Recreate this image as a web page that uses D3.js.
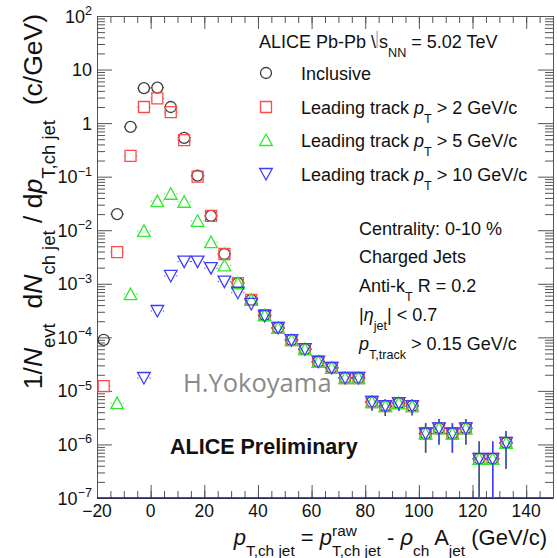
<!DOCTYPE html>
<html>
<head>
<meta charset="utf-8">
<script src="https://cdn.jsdelivr.net/npm/d3@7"></script>
<style>
body { margin: 0; background: #fff; }
svg { display: block; }
text { font-family: "Liberation Sans", Arial, Helvetica, sans-serif; white-space: pre; }
</style>
</head>
<body>
<svg width="557" height="558"></svg>
<script>
// bin centres (GeV/c), bins are 5 GeV/c wide
const binCenters = [-17.5, -12.5, -7.5, -2.5, 2.5, 7.5, 12.5, 17.5, 22.5, 27.5, 32.5, 37.5, 42.5, 47.5, 52.5,
  57.5, 62.5, 67.5, 72.5, 77.5, 82.5, 87.5, 92.5, 97.5, 102.5, 107.5, 112.5, 117.5, 122.5, 127.5, 132.5]

const inclusive = [9e-5, 0.02, 0.85, 4.5, 4.6, 2.0, 0.53, 0.105, 0.0185, 0.0036, 1.03e-3, 5.0e-4, 2.6e-4, 1.5e-4, 8.9e-5,
  6.0e-5, 3.5e-5, 2.7e-5, 1.74e-5, 1.74e-5, 6.2e-6, 5.2e-6, 5.9e-6, 5.2e-6, 1.6e-6, 2.0e-6, 1.6e-6, 2.0e-6, 5.4e-7, 5.4e-7, 1.07e-6]
const lead2 = [1.23e-5, 3.9e-3, 0.245, 2.0, 2.9, 1.6, 0.48, 0.10, 0.0185, 0.0036, 1.03e-3, 5.0e-4, 2.6e-4, 1.5e-4, 8.9e-5,
  6.0e-5, 3.5e-5, 2.7e-5, 1.74e-5, 1.74e-5, 6.2e-6, 5.2e-6, 5.9e-6, 5.2e-6, 1.6e-6, 2.0e-6, 1.6e-6, 2.0e-6, 5.4e-7, 5.4e-7, 1.07e-6]
const lead5 = [null, 5.9e-6, 6.4e-4, 9.7e-3, 0.035, 0.048, 0.034, 0.015, 6.0e-3, 2.2e-3, 1.03e-3, 5.0e-4, 2.6e-4, 1.5e-4, 8.9e-5,
  6.0e-5, 3.5e-5, 2.7e-5, 1.74e-5, 1.74e-5, 6.2e-6, 5.2e-6, 5.9e-6, 5.2e-6, 1.6e-6, 2.0e-6, 1.6e-6, 2.0e-6, 5.4e-7, 5.4e-7, 1.07e-6]
const lead10 = [null, null, null, 1.74e-5, 3.1e-4, 1.4e-3, 2.6e-3, 2.6e-3, 1.96e-3, 1.1e-3, 6.8e-4, 4.2e-4, 2.5e-4, 1.5e-4, 8.9e-5,
  6.0e-5, 3.5e-5, 2.7e-5, 1.74e-5, 1.74e-5, 6.2e-6, 5.2e-6, 5.9e-6, 5.2e-6, 1.6e-6, 2.0e-6, 1.6e-6, 2.0e-6, 5.4e-7, 5.4e-7, 1.07e-6]
// statistical errors (absolute), same for every selection
const statErr = [0, 0, 0, 0, 0, 0, 0, 0, 0, 0, 3e-5, 1.5e-5, 9e-6, 6e-6, 4e-6,
  3e-6, 2.2e-6, 1.9e-6, 1.5e-6, 1.5e-6, 1.9e-6, 1.8e-6, 1.7e-6, 1.7e-6, 0.9e-6, 1.0e-6, 0.9e-6, 1.0e-6, 0.6e-6, 0.6e-6, 0.72e-6]

const xTicks = [-20, 0, 20, 40, 60, 80, 100, 120, 140]
const yExps = [2, 1, 0, -1, -2, -3, -4, -5, -6, -7]
const legendNames = ["Inclusive", "2", "5", "10"]

const svg = d3.select("svg")
const x = d3.scaleLinear().domain([-20, 150]).range([97, 553])
const y = d3.scaleLog().domain([1e-7, 1e2]).range([498, 16])

const axisColor = "#555"

// rich text: pieces laid out one after another
function rich(parent, x0, y0, parts, size, anchor) {
  const g = parent.append("g")
  let cx = 0
  parts.forEach(p => {
    if (p.bar) {
      g.append("line").attr("x1", cx + 1).attr("x2", cx + 1)
        .attr("y1", -size * 0.95).attr("y2", 0).attr("stroke", "#777").attr("stroke-width", 0.8)
      cx += 3
      return
    }
    if (p.stack) {
      const a = g.append("text").attr("x", cx).attr("y", -size * 0.42).attr("font-size", size * 0.7).text(p.stack[0])
      const b = g.append("text").attr("x", cx).attr("y", size * 0.5).attr("font-size", size * 0.7).text(p.stack[1])
      cx += Math.max(a.node().getComputedTextLength(), b.node().getComputedTextLength())
      return
    }
    const small = p.sub || p.sup
    const t = g.append("text")
      .attr("x", cx)
      .attr("y", p.sub ? size * 0.5 : p.sup ? -size * 0.42 : 0)
      .attr("font-size", small ? size * 0.7 : size)
      .style("font-style", p.it ? "italic" : null)
      .text(p.t)
    cx += t.node().getComputedTextLength()
  })
  const dx = anchor === "end" ? -cx : anchor === "middle" ? -cx / 2 : 0
  g.attr("transform", `translate(${x0 + dx},${y0})`)
  return g
}

// axes: minor + major ticks on all four sides
const minorX = d3.range(-20, 151, 5)
const minorY = []
for (let e = -7; e < 2; e++) for (let k = 2; k <= 9; k++) minorY.push(k * Math.pow(10, e))
const decades = yExps.map(e => Math.pow(10, e))

function styleAxis(g) {
  g.selectAll("line").attr("stroke", axisColor)
  g.select(".domain").attr("stroke", axisColor)
  g.selectAll("text").remove()
}

svg.append("g").attr("transform", "translate(0,498)")
  .call(d3.axisBottom(x).tickValues(minorX).tickSize(-7).tickSizeOuter(0)).call(styleAxis)
svg.append("g").attr("transform", "translate(0,498)")
  .call(d3.axisBottom(x).tickValues(xTicks).tickSize(-13).tickSizeOuter(0)).call(styleAxis)
svg.append("g").attr("transform", "translate(0,16)")
  .call(d3.axisTop(x).tickValues(minorX).tickSize(-7).tickSizeOuter(0)).call(styleAxis)
svg.append("g").attr("transform", "translate(0,16)")
  .call(d3.axisTop(x).tickValues(xTicks).tickSize(-13).tickSizeOuter(0)).call(styleAxis)
svg.append("g").attr("transform", "translate(97,0)")
  .call(d3.axisLeft(y).tickValues(minorY).tickSize(-8).tickSizeOuter(0)).call(styleAxis)
svg.append("g").attr("transform", "translate(97,0)")
  .call(d3.axisLeft(y).tickValues(decades).tickSize(-15).tickSizeOuter(0)).call(styleAxis)
svg.append("g").attr("transform", "translate(553,0)")
  .call(d3.axisRight(y).tickValues(minorY).tickSize(-8).tickSizeOuter(0)).call(styleAxis)
svg.append("g").attr("transform", "translate(553,0)")
  .call(d3.axisRight(y).tickValues(decades).tickSize(-15).tickSizeOuter(0)).call(styleAxis)

// bottom frame line is dark navy in the original
svg.append("line").attr("x1", 97).attr("x2", 553).attr("y1", 498).attr("y2", 498)
  .attr("stroke", "#1c1c5c").attr("stroke-width", 1.6)

// tick labels
xTicks.forEach(v => {
  svg.append("text").attr("x", x(v)).attr("y", 517).attr("text-anchor", "middle")
    .attr("font-size", 17.5).attr("fill", "#111").text(d3.format("d")(v))
})
yExps.forEach(e => {
  const parts = e === 0 ? [{ t: "1" }] : e === 1 ? [{ t: "10" }] : [{ t: "10" }, { t: d3.format("d")(e), sup: true }]
  const g = rich(svg, 92, y(Math.pow(10, e)) + 6.5, parts, 18, "end")
  g.selectAll("text").attr("fill", "#111")
})

// axis titles
const yTitle = svg.append("g").attr("transform", "translate(42,14) rotate(-90)")
rich(yTitle, 0, 0, [
  { t: "1/" }, { t: "N", it: true }, { t: "evt", sub: true },
  { t: "  d" }, { t: "N", it: true }, { t: "ch jet", sub: true },
  { t: " / d" }, { t: "p", it: true }, { t: "T,ch jet", sub: true },
  { t: "  (c/GeV)" }
], 26.5, "end").selectAll("text").attr("fill", "#111")

rich(svg, 547, 545, [
  { t: "p", it: true }, { t: "T,ch jet", sub: true }, { t: " = " },
  { t: "p", it: true }, { stack: ["raw", "T,ch jet"] }, { t: " - " },
  { t: "ρ", it: true }, { t: "ch", sub: true }, { t: " A" }, { t: "jet", sub: true },
  { t: " (GeV/c)" }
], 22, "end").selectAll("text").attr("fill", "#111")

// markers
const R = 5.5
function markerPath(shape) {
  if (shape === "circle") return `M${R},0A${R},${R},0,1,1,${-R},0A${R},${R},0,1,1,${R},0Z`
  if (shape === "square") return `M${-R},${-R}H${R}V${R}H${-R}Z`
  if (shape === "up") return `M0,${-R - 0.5}L${R + 0.8},${R}H${-R - 0.8}Z`
  return `M${-R - 0.8},${-R}H${R + 0.8}L0,${R + 0.5}Z`
}

const series = [
  { vals: inclusive, color: "#3d3d3d", shape: "circle" },
  { vals: lead2, color: "#ff4a4a", shape: "square" },
  { vals: lead5, color: "#2fe82f", shape: "up" },
  { vals: lead10, color: "#3c3cff", shape: "down" }
]

series.forEach(s => {
  const g = svg.append("g")
  binCenters.forEach((c, i) => {
    const v = s.vals[i]
    if (v == null) return
    const px = x(c), py = y(v)
    const e = statErr[i]
    // horizontal bin-width bar, gap inside the marker
    const xl = x(c - 2.5), xr = x(c + 2.5)
    g.append("line").attr("x1", xl).attr("x2", px - R).attr("y1", py).attr("y2", py)
      .attr("stroke", s.color).attr("stroke-width", 1)
    g.append("line").attr("x1", px + R).attr("x2", xr).attr("y1", py).attr("y2", py)
      .attr("stroke", s.color).attr("stroke-width", 1)
    if (e > 0) {
      const top = y(v + e)
      const bot = v - e > 1e-7 ? y(v - e) : 498
      if (top < py - R) g.append("line").attr("x1", px).attr("x2", px).attr("y1", top).attr("y2", py - R)
        .attr("stroke", s.color).attr("stroke-width", 1.3)
      if (bot > py + R) g.append("line").attr("x1", px).attr("x2", px).attr("y1", py + R).attr("y2", bot)
        .attr("stroke", s.color).attr("stroke-width", 1.3)
    }
    g.append("path").attr("d", markerPath(s.shape)).attr("transform", `translate(${px},${py})`)
      .attr("fill", "none").attr("stroke", s.color).attr("stroke-width", 1.3)
  })
})

// legend
rich(svg, 259, 48, [
  { t: "ALICE Pb-Pb " }, { t: "\\" }, { bar: true }, { t: "s" }, { t: "NN", sub: true }, { t: " = 5.02 TeV" }
], 18).selectAll("text").attr("fill", "#111")

const legY = [73, 107, 140, 174]
series.forEach((s, i) => {
  svg.append("path").attr("d", markerPath(s.shape)).attr("transform", `translate(266,${legY[i]})`)
    .attr("fill", "none").attr("stroke", s.color).attr("stroke-width", 1.3)
  const parts = i === 0 ? [{ t: legendNames[0] }]
    : [{ t: "Leading track " }, { t: "p", it: true }, { t: "T", sub: true }, { t: " > " + legendNames[i] + " GeV/c" }]
  rich(svg, 301, legY[i] + 6.5, parts, 18).selectAll("text").attr("fill", "#111")
})

// info block
const info = [
  [{ t: "Centrality: 0-10 %" }],
  [{ t: "Charged Jets" }],
  [{ t: "Anti-k" }, { t: "T", sub: true }, { t: " R = 0.2" }],
  [{ t: "|" }, { t: "η", it: true }, { t: "jet", sub: true }, { t: "| < 0.7" }],
  [{ t: "p", it: true }, { t: "T,track", sub: true }, { t: " > 0.15 GeV/c" }]
]
const infoY = [235, 263, 292, 321, 350]
info.forEach((parts, i) => rich(svg, 359, infoY[i], parts, 18).selectAll("text").attr("fill", "#111"))

svg.append("text").attr("x", 183).attr("y", 392).attr("font-size", 25.5)
  .style("font-family", "'Open Sans', 'Noto Sans', sans-serif").attr("fill", "#8a8a8a").text("H.Yokoyama")

svg.append("text").attr("x", 170).attr("y", 454).attr("font-size", 21.5).attr("font-weight", "bold")
  .attr("fill", "#111").text("ALICE Preliminary")
</script>
</body>
</html>
